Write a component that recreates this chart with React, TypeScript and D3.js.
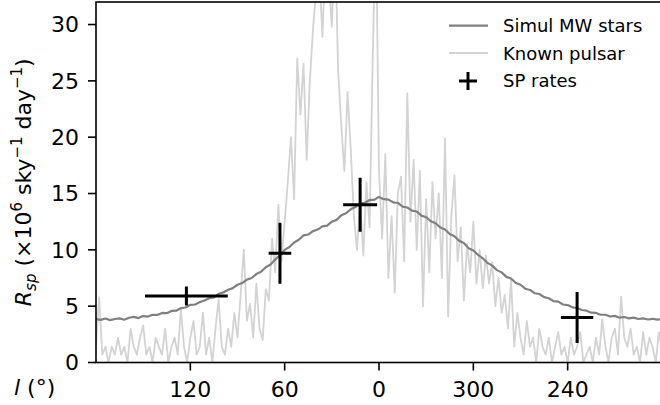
import React from 'react';
import * as d3 from 'd3';

// galactic longitude grid (deg), plotted from +180 on the left to -180 on the right
const simulLon = d3.range(180, -181, -3);
const simulRate = [
  3.85, 3.78, 3.9, 3.76, 3.86, 3.92, 3.8, 3.97, 4.05, 3.94,
  4.12, 4.08, 4.24, 4.22, 4.4, 4.38, 4.58, 4.6, 4.82, 4.88,
  5.12, 5.15, 5.36, 5.5, 5.7, 5.78, 6.1, 6.22, 6.46, 6.6,
  6.9, 7.05, 7.36, 7.5, 7.85, 8.06, 8.45, 8.7, 9.15, 9.5,
  10.0, 10.25, 10.65, 10.9, 11.28, 11.36, 11.66, 11.8, 12.08, 12.15,
  12.5, 12.66, 13.06, 13.25, 13.6, 13.8, 14.1, 14.18, 14.42, 14.45,
  14.7, 14.5, 14.46, 14.22, 14.16, 13.84, 13.76, 13.48, 13.4, 13.04,
  12.9, 12.54, 12.36, 11.98, 11.8, 11.4, 11.2, 10.8, 10.6, 10.15,
  9.94, 9.55, 9.25, 8.84, 8.6, 8.2, 8.0, 7.6, 7.45, 7.05,
  6.9, 6.55, 6.44, 6.15, 6.08, 5.8, 5.7, 5.45, 5.4, 5.15,
  5.1, 4.9, 4.84, 4.66, 4.6, 4.42, 4.4, 4.24, 4.24, 4.08,
  4.14, 3.98, 4.04, 3.92, 3.98, 3.86, 3.92, 3.82, 3.88, 3.8,
  3.86
];

const pulsarLon = d3.range(180, -181, -2);
const pulsarRate = [
  1.5, 5.8, 0.7, 1.4, 0.0, 1.4, 0.7, 2.2, 0.7, 1.4, 0.0, 3.0, 1.4, 0.7, 2.2,
  3.3, 0.7, 1.4, 0.0, 2.2, 1.4, 0.7, 3.0, 0.0, 1.4, 2.2, 0.7, 4.7, 1.4, 0.0,
  2.2, 3.7, 0.7, 1.4, 4.4, 0.7, 2.2, 0.0, 3.0, 5.6, 1.4, 0.7, 3.0,
  1.4, 4.4, 2.2, 6.0, 10.0, 3.7, 5.2, 2.2, 7.0, 3.0,
  2.0, 6.5, 5.5, 11.0, 8.0, 14.0, 9.0, 12.5,
  16.0, 20.0, 14.5, 27.0, 22.0, 26.5, 18.0, 25.0,
  29.5, 33.0, 35.0, 28.9, 36.0, 34.0, 29.8, 38.0,
  26.0, 21.0, 17.0, 24.0, 19.0, 13.0, 10.0,
  14.5, 9.5, 16.0, 12.0, 27.0, 40.0, 17.0,
  11.0, 18.5, 7.5, 13.0, 6.2, 15.0, 16.5, 9.0,
  23.9, 12.5, 18.0, 10.0, 17.0, 5.0, 14.5, 8.0, 16.0,
  11.0, 15.0, 7.5, 19.9, 4.1, 13.0, 16.6, 9.0,
  12.0, 5.5, 10.5, 8.0, 12.5, 7.0, 10.0, 6.6,
  9.5, 7.0, 8.9, 5.0, 7.5, 4.4, 6.0,
  3.0, 7.3, 1.4, 4.4, 2.2, 0.7, 3.7, 1.4, 2.2, 0.0, 3.0, 1.4,
  0.7, 2.2, 0.0, 1.4, 2.7, 0.7, 1.4, 0.0, 2.2, 0.7, 1.4, 2.7, 0.0, 0.7, 1.4, 0.0, 2.2, 0.7,
  3.8, 1.4, 0.0, 2.2, 3.0, 0.7, 5.85, 2.2, 1.4, 3.0, 0.7,
  1.4, 0.0, 2.7, 0.7, 2.2, 1.4, 0.0, 2.7, 1.0
];

const spLon = [122.5, 63, 12, -126];
const spLonErr = [26.3, 7.2, 10.8, 10.3];
const spRate = [5.9, 9.7, 14.0, 4.0];
const spRateErr = [0.85, 2.7, 2.4, 2.26];

const xTicks = [120, 60, 0, -60, -120];
const xTickLabels = ['120', '60', '0', '300', '240'];
const yTicks = [0, 5, 10, 15, 20, 25, 30];

const legendItems = ['Simul MW stars', 'Known pulsar', 'SP rates'];

const width = 660;
const height = 405;
const plot = { left: 96, right: 662, top: 2, bottom: 362.5 };
const font = 'DejaVu Sans, sans-serif';

export default function App() {
  const x = d3.scaleLinear().domain([180, -180]).range([plot.left, plot.right]);
  const y = d3.scaleLinear().domain([0, 32]).range([plot.bottom, plot.top]);

  const simulPath = d3.line<number>()
    .x((_, i) => x(simulLon[i]))
    .y(d => y(d))(simulRate);
  const pulsarPath = d3.line<number>()
    .x((_, i) => x(pulsarLon[i]))
    .y(d => y(d))(pulsarRate);

  return (
    <svg width={width} height={height} style={{ position: 'absolute', left: 0, top: 0, fontFamily: font }}>
      <defs>
        <clipPath id="plotArea">
          <rect x={plot.left} y={plot.top} width={plot.right - plot.left} height={plot.bottom - plot.top} />
        </clipPath>
      </defs>
      <rect width={width} height={height} fill="#fff" />

      <g clipPath="url(#plotArea)">
        <path d={pulsarPath ?? ''} fill="none" stroke="#d3d3d3" strokeWidth={1.8} strokeLinejoin="round" />
        <path d={simulPath ?? ''} fill="none" stroke="#808080" strokeWidth={2.2} strokeLinejoin="round" />
        {spRate.map((v, i) => (
          <g key={i} stroke="#000" strokeWidth={3}>
            <line x1={x(spLon[i] + spLonErr[i])} x2={x(spLon[i] - spLonErr[i])} y1={y(v)} y2={y(v)} />
            <line x1={x(spLon[i])} x2={x(spLon[i])} y1={y(v - spRateErr[i])} y2={y(v + spRateErr[i])} />
          </g>
        ))}
      </g>

      {/* spines */}
      <rect x={plot.left} y={plot.top} width={plot.right - plot.left} height={plot.bottom - plot.top}
        fill="none" stroke="#000" strokeWidth={1.6} />

      {/* x ticks */}
      {xTicks.map((t, i) => (
        <g key={t} transform={`translate(${x(t)},${plot.bottom})`}>
          <line y2={8} stroke="#000" strokeWidth={1.6} />
          <text y={34} textAnchor="middle" fontSize={22} fill="#000">{xTickLabels[i]}</text>
        </g>
      ))}

      {/* y ticks */}
      {yTicks.map(t => (
        <g key={t} transform={`translate(${plot.left},${y(t)})`}>
          <line x2={-8} stroke="#000" strokeWidth={1.6} />
          <text x={-17} dy="0.36em" textAnchor="end" fontSize={22} fill="#000">{t}</text>
        </g>
      ))}

      {/* axis labels */}
      <text transform={`translate(31,${(plot.top + plot.bottom) / 2}) rotate(-90)`} textAnchor="middle" fontSize={22} fill="#000">
        <tspan fontStyle="italic">R</tspan>
        <tspan fontStyle="italic" fontSize={15} dy={5}>sp</tspan>
        <tspan dy={-5}> (×10</tspan>
        <tspan fontSize={15} dy={-9}>6</tspan>
        <tspan dy={9}> sky</tspan>
        <tspan fontSize={15} dy={-9}>−1</tspan>
        <tspan dy={9}> day</tspan>
        <tspan fontSize={15} dy={-9}>−1</tspan>
        <tspan dy={9}>)</tspan>
      </text>
      <text x={14} y={395} fontSize={22} fill="#000">
        <tspan fontStyle="italic">l</tspan>
        <tspan> (°)</tspan>
      </text>

      {/* legend */}
      <g fontSize={18} fill="#000">
        <line x1={449} x2={488} y1={25.7} y2={25.7} stroke="#808080" strokeWidth={2.2} />
        <line x1={449} x2={488} y1={53} y2={53} stroke="#d3d3d3" strokeWidth={1.8} />
        <line x1={459} x2={477} y1={81} y2={81} stroke="#000" strokeWidth={3} />
        <line x1={468} x2={468} y1={72} y2={90} stroke="#000" strokeWidth={3} />
        {legendItems.map((s, i) => (
          <text key={s} x={503} y={25.7 + i * 27.6} dy="0.36em">{s}</text>
        ))}
      </g>
    </svg>
  );
}
